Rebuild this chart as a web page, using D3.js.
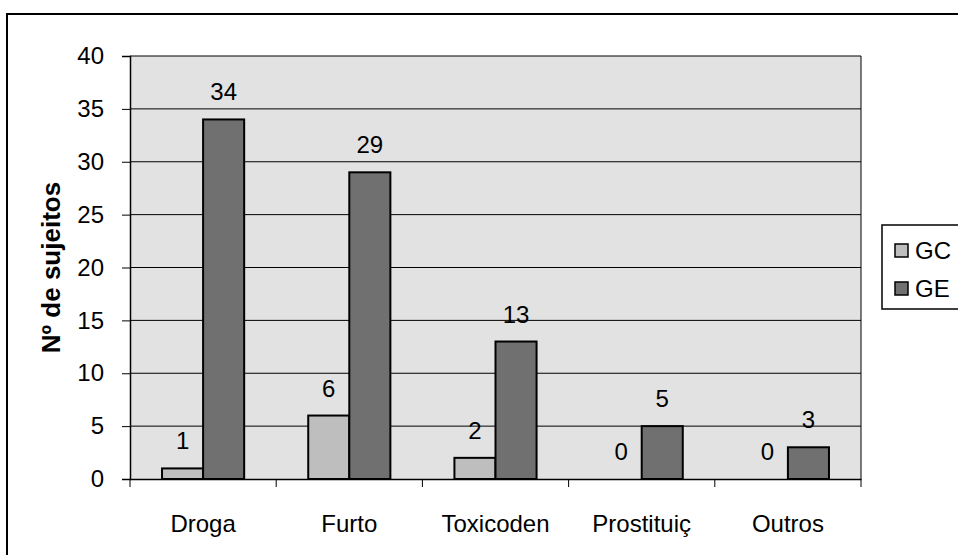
<!DOCTYPE html>
<html lang="pt">
<head>
  <meta charset="UTF-8">
  <title>Nº de sujeitos</title>
  <script src="https://d3js.org/d3.v7.min.js"></script>
  <style>
    body { margin: 0; background: #fff; }
    text { font-family: "Liberation Sans", Arial, sans-serif; }
  </style>
</head>
<body>
  <div id="root"></div>
  <script>
    // dados
    const categories = ['Droga', 'Furto', 'Toxicoden', 'Prostituiç', 'Outros']
    const seriesNames = ['GC', 'GE']
    const gcValues = [1, 6, 2, 0, 0]
    const geValues = [34, 29, 13, 5, 3]
    const yTicks = [0, 5, 10, 15, 20, 25, 30, 35, 40]

    const colors = { GC: '#bebebe', GE: '#707070' }
    const fontFamily = '"Liberation Sans", Arial, sans-serif'

    const width = 958
    const height = 555
    const margin = { top: 56, right: 97, bottom: 76, left: 130 }
    const innerWidth = width - margin.left - margin.right
    const innerHeight = height - margin.top - margin.bottom

    const svg = d3.select('#root')
      .append('svg')
      .attr('width', width)
      .attr('height', height)

    // moldura exterior (só topo e esquerda ficam visíveis)
    svg.append('path')
      .attr('d', `M7,${height} V14 H${width}`)
      .attr('fill', 'none')
      .attr('stroke', '#000')
      .attr('stroke-width', 2)

    const data = categories.map((c, i) => ({ name: c, GC: gcValues[i], GE: geValues[i] }))

    const x = d3.scaleBand().domain(categories).range([0, innerWidth]).paddingInner(0).paddingOuter(0)
    const x1 = d3.scaleBand().domain(seriesNames).range([0, x.bandwidth()]).paddingOuter(0.78).paddingInner(0)
    const y = d3.scaleLinear().domain([0, 40]).range([innerHeight, 0])

    const g = svg.append('g').attr('transform', `translate(${margin.left},${margin.top})`)

    // fundo da área de desenho
    g.append('rect')
      .attr('width', innerWidth).attr('height', innerHeight)
      .attr('fill', '#e2e2e2')

    // grelha
    g.append('g')
      .selectAll('line')
      .data(yTicks.filter(d => d > 0))
      .join('line')
      .attr('x1', 0).attr('x2', innerWidth)
      .attr('y1', d => y(d)).attr('y2', d => y(d))
      .attr('stroke', '#000').attr('stroke-width', 1)

    g.append('line')
      .attr('x1', innerWidth).attr('x2', innerWidth)
      .attr('y1', 0).attr('y2', innerHeight)
      .attr('stroke', '#000')

    // barras
    const groups = g.append('g')
      .selectAll('g')
      .data(data)
      .join('g')
      .attr('transform', d => `translate(${x(d.name)},0)`)

    groups.selectAll('rect')
      .data(d => seriesNames.map(s => ({ key: s, value: d[s] })))
      .join('rect')
      .attr('x', d => x1(d.key))
      .attr('y', d => y(d.value))
      .attr('width', x1.bandwidth())
      .attr('height', d => innerHeight - y(d.value))
      .attr('fill', d => colors[d.key])
      .attr('stroke', '#000')
      .attr('stroke-width', d => d.value > 0 ? 2 : 0)

    groups.selectAll('text.val')
      .data(d => seriesNames.map(s => ({ key: s, value: d[s] })))
      .join('text')
      .attr('class', 'val')
      .attr('x', d => x1(d.key) + x1.bandwidth() / 2)
      .attr('y', d => y(d.value) - 19)
      .attr('text-anchor', 'middle')
      .attr('font-size', 24)
      .text(d => d.value)

    // eixo y
    const yAxis = d3.axisLeft(y).tickValues(yTicks).tickSize(8).tickPadding(18)
    const yAxisG = g.append('g').call(yAxis)
    yAxisG.select('.domain').attr('stroke', '#000').attr('stroke-width', 1.5)
    yAxisG.selectAll('.tick text').attr('font-size', 24).attr('fill', '#000')
      .style('font-family', fontFamily)

    // eixo x
    const xAxis = d3.axisBottom(x).tickSize(0).tickPadding(36)
    const xAxisG = g.append('g').attr('transform', `translate(0,${innerHeight})`).call(xAxis)
    xAxisG.select('.domain').attr('stroke', '#000').attr('stroke-width', 1.5)
    xAxisG.selectAll('.tick text').attr('font-size', 24).attr('fill', '#000')
      .style('font-family', fontFamily)
    xAxisG.append('g')
      .selectAll('line')
      .data(d3.range(categories.length + 1))
      .join('line')
      .attr('x1', d => d * x.bandwidth()).attr('x2', d => d * x.bandwidth())
      .attr('y1', 0).attr('y2', 8)
      .attr('stroke', '#000')

    // título do eixo y
    svg.append('text')
      .attr('transform', `translate(60,${margin.top + innerHeight / 2}) rotate(-90)`)
      .attr('text-anchor', 'middle')
      .attr('font-size', 26)
      .attr('font-weight', 'bold')
      .text('Nº de sujeitos')

    // legenda
    const legend = svg.append('g').attr('transform', 'translate(882,225)')
    legend.append('rect')
      .attr('width', 90).attr('height', 84)
      .attr('fill', '#fff').attr('stroke', '#000').attr('stroke-width', 1.5)
    const items = legend.selectAll('g.item')
      .data(seriesNames)
      .join('g')
      .attr('class', 'item')
      .attr('transform', (d, i) => `translate(13,${25 + i * 38})`)
    items.append('rect')
      .attr('x', 0).attr('y', -6)
      .attr('width', 13).attr('height', 13)
      .attr('fill', d => colors[d])
      .attr('stroke', '#000').attr('stroke-width', 1.5)
    items.append('text')
      .attr('x', 20).attr('y', 9)
      .attr('font-size', 24)
      .text(d => d)
  </script>
</body>
</html>
